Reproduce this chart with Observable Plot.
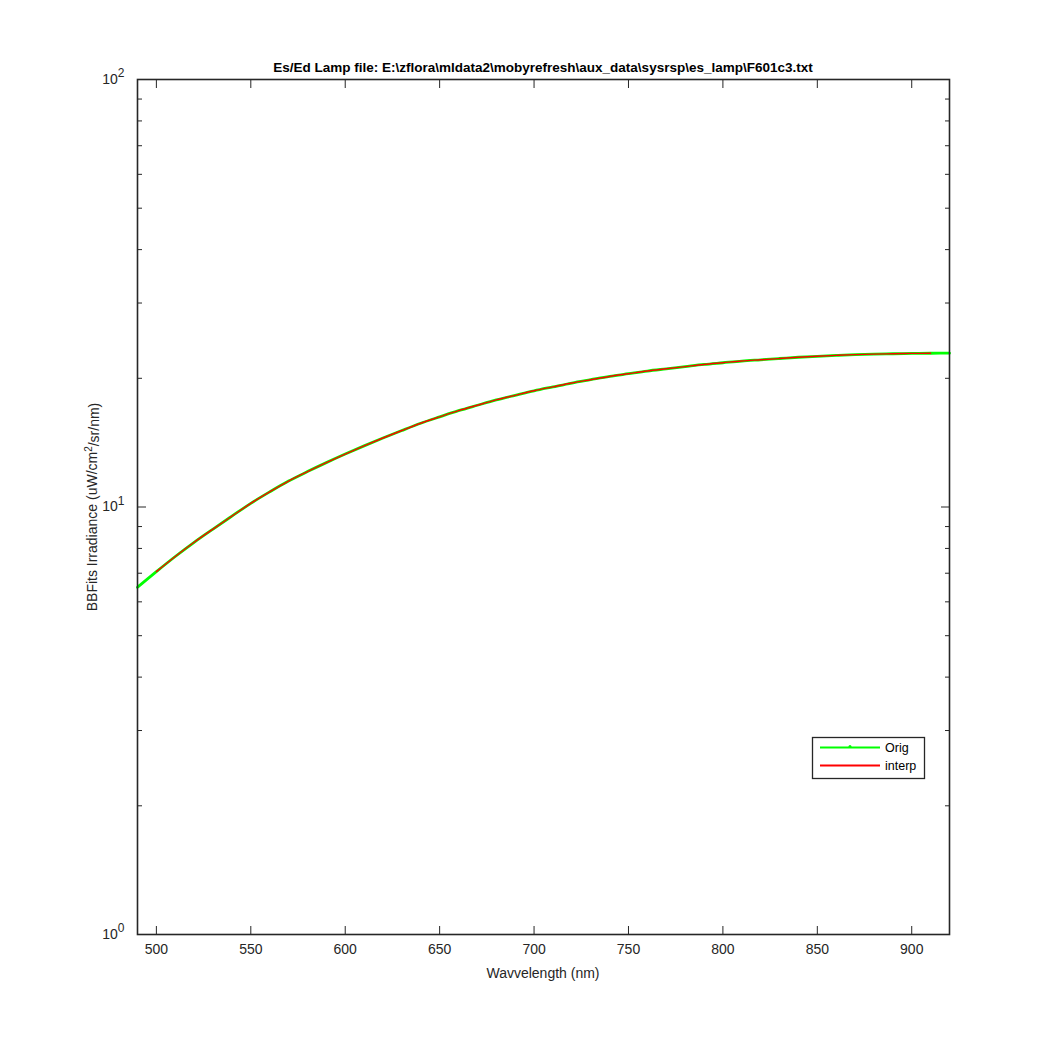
<!DOCTYPE html>
<html><head><meta charset="utf-8">
<script src="https://cdn.jsdelivr.net/npm/d3@7"></script>
<script src="https://cdn.jsdelivr.net/npm/@observablehq/plot@0.6"></script>
<style>body{margin:0;background:#fff}</style>
</head><body><div id="chart"></div>
<script>
const titleText = "Es/Ed Lamp file: E:\\zflora\\mldata2\\mobyrefresh\\aux_data\\sysrsp\\es_lamp\\F601c3.txt";
const xLabel = "Wavvelength (nm)";
const yLabelParts = ["BBFits Irradiance (uW/cm", "2", "/sr/nm)"];
const legendLabels = ["Orig", "interp"];
const seriesColors = ["#00ff00", "#ff0000"];
const xTicks = [500, 550, 600, 650, 700, 750, 800, 850, 900];
const yMajorTicks = [1, 10, 100];
const yMinorTicks = [2,3,4,5,6,7,8,9,20,30,40,50,60,70,80,90];

const origWavelength = [490,500,510,520,530,540,550,560,570,580,590,600,610,620,630,640,650,660,670,680,690,700,710,720,730,740,750,760,770,780,790,800,810,820,830,840,850,860,870,880,890,900,910,920];
const origIrradiance = [6.49,7.06,7.66,8.27,8.88,9.52,10.2,10.85,11.5,12.1,12.7,13.3,13.9,14.5,15.1,15.7,16.25,16.8,17.3,17.8,18.25,18.7,19.1,19.5,19.85,20.2,20.5,20.8,21.05,21.3,21.55,21.75,21.95,22.1,22.25,22.4,22.52,22.63,22.72,22.78,22.83,22.87,22.89,22.9];
const interpWavelength = [500,510,520,530,540,550,560,570,580,590,600,610,620,630,640,650,660,670,680,690,700,710,720,730,740,750,760,770,780,790,800,810,820,830,840,850,860,870,880,890,900,910];
const interpIrradiance = [7.06,7.66,8.27,8.88,9.52,10.2,10.85,11.5,12.1,12.7,13.3,13.9,14.5,15.1,15.7,16.25,16.8,17.3,17.8,18.25,18.7,19.1,19.5,19.85,20.2,20.5,20.8,21.05,21.3,21.55,21.75,21.95,22.1,22.25,22.4,22.52,22.63,22.72,22.78,22.83,22.87,22.89];

const orig = origWavelength.map((w, i) => ({w, v: origIrradiance[i]}));
const interp = interpWavelength.map((w, i) => ({w, v: interpIrradiance[i]}));

const axisColor = "#262626";
const font = "'Liberation Sans', Arial, Helvetica, sans-serif";

const chart = Plot.plot({
  width: 1050, height: 1050,
  marginLeft: 137, marginRight: 101, marginTop: 79, marginBottom: 116,
  style: {fontFamily: font, fontSize: "14px", color: axisColor, background: "#fff"},
  x: {type: "linear", domain: [490, 920]},
  y: {type: "log", domain: [1, 100]},
  marks: [
    Plot.line(orig, {x: "w", y: "v", stroke: seriesColors[0], strokeWidth: 2.8, curve: "monotone-x"}),
    Plot.line(interp, {x: "w", y: "v", stroke: seriesColors[1], strokeWidth: 1.4, curve: "monotone-x"}),
    Plot.axisX({anchor: "bottom", ticks: xTicks, tickSize: -8, tickPadding: 18, label: null, stroke: axisColor, fill: axisColor, fontSize: 14}),
    Plot.axisX({anchor: "top", ticks: xTicks, tickSize: -8, tickFormat: () => "", label: null, stroke: axisColor}),
    Plot.axisY({anchor: "left", ticks: yMajorTicks, tickSize: -9, tickPadding: 22, tickFormat: d => String(Math.round(Math.log10(d))), label: null, stroke: axisColor, fill: axisColor, fontSize: 14}),
    Plot.axisY({anchor: "right", ticks: yMajorTicks, tickSize: -9, tickFormat: () => "", label: null, stroke: axisColor}),
    Plot.axisY({anchor: "left", ticks: yMinorTicks, tickSize: -5, tickFormat: () => "", label: null, stroke: axisColor}),
    Plot.axisY({anchor: "right", ticks: yMinorTicks, tickSize: -5, tickFormat: () => "", label: null, stroke: axisColor}),
    Plot.frame({stroke: axisColor, strokeWidth: 1.6})
  ]
});
document.getElementById("chart").appendChild(chart);

const svg = d3.select(chart);
// superscript tick labels 10^n
svg.selectAll("g[aria-label='y-axis tick label'] text").each(function() {
  const t = d3.select(this);
  const e = t.text();
  if (!e) return;
  t.text("");
  t.append("tspan").text("10");
  t.append("tspan").attr("dy", "-0.55em").attr("font-size", "12px").text(e);
});

const cx = (137 + 949) / 2;
svg.append("text").attr("x", cx).attr("y", 72).attr("text-anchor", "middle")
  .attr("font-family", font).attr("font-weight", "bold").attr("font-size", 13.5).attr("fill", "#000").text(titleText);
svg.append("text").attr("x", cx).attr("y", 978).attr("text-anchor", "middle")
  .attr("font-family", font).attr("font-size", 14).attr("fill", axisColor).text(xLabel);
const yl = svg.append("text").attr("transform", "translate(97,507) rotate(-90)").attr("text-anchor", "middle")
  .attr("font-family", font).attr("font-size", 14).attr("fill", axisColor);
yl.append("tspan").text(yLabelParts[0]);
yl.append("tspan").attr("dy", "-0.5em").attr("font-size", "10px").text(yLabelParts[1]);
yl.append("tspan").attr("dy", "0.5em").text(yLabelParts[2]);

// legend
const lg = svg.append("g").attr("font-family", font).attr("font-size", 12.5).attr("fill", "#000").attr("text-anchor", "start");
lg.append("rect").attr("x", 812.5).attr("y", 737.5).attr("width", 112).attr("height", 41).attr("fill", "#fff").attr("stroke", axisColor).attr("stroke-width", 1.3);
legendLabels.forEach((lab, i) => {
  const y = 747.5 + i * 18;
  lg.append("line").attr("x1", 820).attr("x2", 880).attr("y1", y).attr("y2", y).attr("stroke", seriesColors[i]).attr("stroke-width", 2);
  lg.append("text").attr("x", 885).attr("y", y + 4.5).attr("text-anchor", "start").text(lab);
});
lg.append("circle").attr("cx", 850).attr("cy", 746.5).attr("r", 1.5).attr("fill", seriesColors[0]);
</script>
</body></html>
